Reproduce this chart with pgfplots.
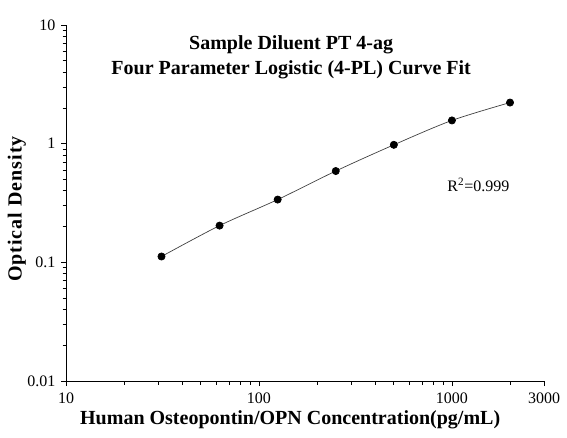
\documentclass[border=0pt]{standalone}
\usepackage{fontspec}
\setmainfont{Liberation Serif}
\newfontfamily\ylabfont[LetterSpace=5]{Liberation Serif}
\usepackage{pgfplots}
\pgfplotsset{compat=1.18}
\begin{document}
\begin{tikzpicture}[x=1pt,y=1pt]
\useasboundingbox (-66,-56) rectangle (501,381);
\begin{axis}[
  at={(0,0)}, anchor=south west,
  scale only axis, width=478pt, height=356pt,
  xmode=log, ymode=log,
  xmin=10, xmax=3000, ymin=0.01, ymax=10,
  axis x line*=bottom, axis y line*=left,
  axis line style={-, black, line width=0.9pt},
  xtick={10,100,1000,3000}, xticklabels={10,100,1000,3000},
  minor xtick={20,30,40,50,60,70,80,90,200,300,400,500,600,700,800,900,2000},
  ytick={0.01,0.1,1,10}, yticklabels={0.01,0.1,1,10},
  minor ytick={0.02,0.03,0.04,0.05,0.06,0.07,0.08,0.09,0.2,0.3,0.4,0.5,0.6,0.7,0.8,0.9,2,3,4,5,6,7,8,9},
  tick align=outside, major tick length=5pt, minor tick length=3.5pt,
  tick style={black, line width=0.8pt},
  /pgf/number format/assume math mode=true,
  ticklabel style={font=\fontsize{16}{16}\selectfont},
  xticklabel style={yshift=-3pt},
  yticklabel style={xshift=-2pt},
  xlabel={Human Osteopontin/OPN Concentration(pg/mL)},
  ylabel={Optical Density},
  xlabel style={font=\bfseries\fontsize{20}{20}\selectfont, at={(axis description cs:0.469,-0.1096)}, anchor=center},
  ylabel style={font=\ylabfont\bfseries\fontsize{20}{20}\selectfont, at={(axis description cs:-0.103,0.483)}, anchor=center},
  clip=false,
]
\addplot[black!75, line width=0.7pt, smooth, mark=*, mark size=3.6pt, mark options={fill=black, draw=black, solid}]
  coordinates {(31.25,0.112) (62.5,0.204) (125,0.338) (250,0.588) (500,0.978) (1000,1.57) (2000,2.22)};
\node[align=center, font=\bfseries\fontsize{20}{25}\selectfont] at (axis description cs:0.471,0.91)
  {Sample Diluent PT 4-ag\\Four Parameter Logistic (4-PL) Curve Fit};
\node[font=\fontsize{16}{16}\selectfont] at (axis cs:1371,0.449) {R\textsuperscript{2}=0.999};
\end{axis}
\end{tikzpicture}
\end{document}
